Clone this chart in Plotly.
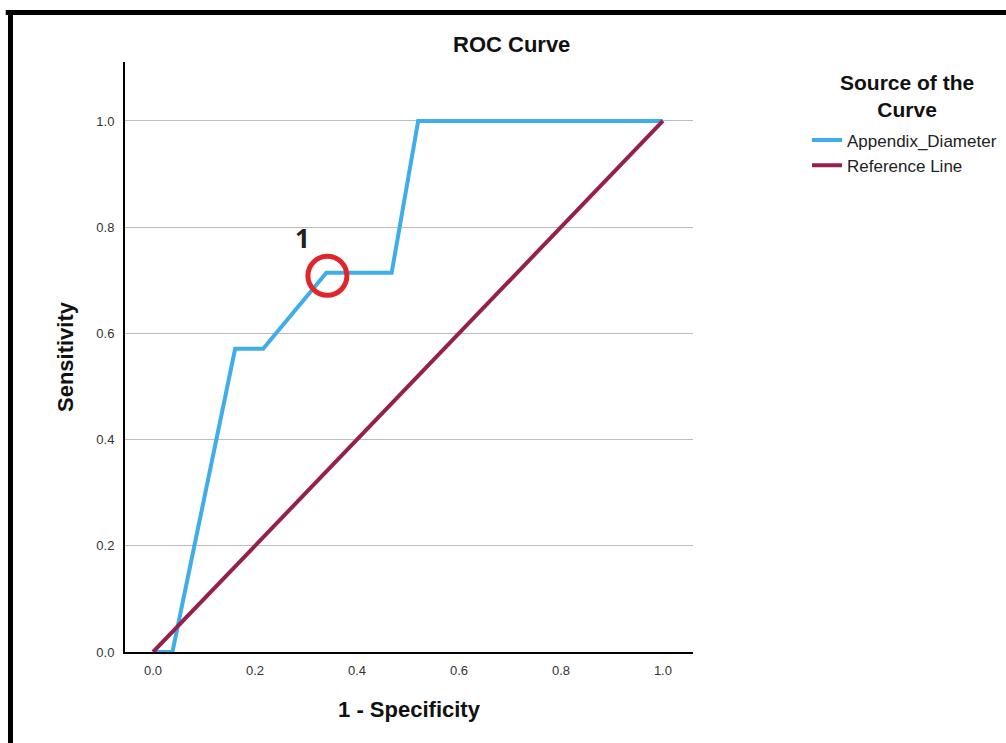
import plotly.graph_objects as go

# ROC curve data (1 - Specificity, Sensitivity)
roc_fpr = [0.0, 0.038, 0.161, 0.216, 0.340, 0.468, 0.520, 1.0]
roc_tpr = [0.0, 0.0, 0.571, 0.571, 0.714, 0.714, 1.0, 1.0]
ref_fpr = [0.0, 1.0]
ref_tpr = [0.0, 1.0]
tick_vals = [0.0, 0.2, 0.4, 0.6, 0.8, 1.0]
tick_text = ["0.0", "0.2", "0.4", "0.6", "0.8", "1.0"]
marked_point = (0.340, 0.714)
marked_label = "1"

BLUE = "#3fadeb"
MAROON = "#95204c"
FONT = "Liberation Sans, Arial, sans-serif"

fig = go.Figure()
fig.add_trace(go.Scatter(x=roc_fpr, y=roc_tpr, mode="lines", name="Appendix_Diameter",
                         line=dict(color=BLUE, width=4)))
fig.add_trace(go.Scatter(x=ref_fpr, y=ref_tpr, mode="lines", name="Reference Line",
                         line=dict(color=MAROON, width=4)))

fig.update_layout(
    width=1006, height=743,
    margin=dict(l=125, r=313, t=62, b=91, autoexpand=False),
    paper_bgcolor="white", plot_bgcolor="white",
    font=dict(family=FONT, color="#222"),
    showlegend=True,
    legend=dict(
        x=1.2007, y=0.8975, xanchor="left", yanchor="top",
        font=dict(size=17, family=FONT, color="#222"),
        itemwidth=30, tracegroupgap=0, bgcolor="rgba(0,0,0,0)",
    ),
)
fig.update_xaxes(range=[-0.055, 1.059], tickvals=tick_vals, ticktext=tick_text,
                 showgrid=False, zeroline=False, showline=True, linecolor="black", linewidth=2,
                 ticks="", ticklabelstandoff=5, tickfont=dict(size=13, color="#333"),
                 title=dict(text="<b>1 - Specificity</b>", font=dict(size=22, color="#111"), standoff=25))
fig.update_yaxes(range=[0, 1.111], tickvals=tick_vals, ticktext=tick_text,
                 showgrid=True, gridcolor="#bdbdbd", gridwidth=1, zeroline=False,
                 showline=True, linecolor="black", linewidth=2,
                 ticks="", ticklabelstandoff=6, tickfont=dict(size=13, color="#333"),
                 title=dict(text="<b>Sensitivity</b>", font=dict(size=22, color="#111"), standoff=17))

# Title
fig.add_annotation(text="<b>ROC Curve</b>", xref="paper", yref="paper", x=0.6796, y=1.0305,
                   xanchor="center", yanchor="middle", showarrow=False,
                   font=dict(size=22, family=FONT, color="#111"))

# Legend title (two centred lines)
fig.add_annotation(text="<b>Source of the<br>Curve</b>", xref="paper", yref="paper",
                   x=1.3768, y=0.9424, xanchor="center", yanchor="middle", align="center",
                   showarrow=False, font=dict(size=21, family=FONT, color="#111"))

# Red circle marker around the chosen cut-off point
fig.add_shape(type="circle", xref="x", yref="y", xsizemode="pixel", ysizemode="pixel",
              xanchor=marked_point[0], yanchor=marked_point[1],
              x0=-18.5, x1=20.5, y0=-22.5, y1=16.5, line=dict(color="#e0262a", width=5))
fig.add_annotation(text="<b>" + marked_label + "</b>", x=marked_point[0], y=marked_point[1],
                   xref="x", yref="y", showarrow=False, xshift=-24, yshift=35,
                   font=dict(size=26, family="Open Sans, DejaVu Sans, sans-serif", color="#222"))

# Frame border (top and left edges)
fig.add_shape(type="line", xref="paper", yref="paper", x0=-0.21, x1=1.56, y0=1.0839, y1=1.0839,
              line=dict(color="black", width=5))
fig.add_shape(type="line", xref="paper", yref="paper", x0=-0.2016, x1=-0.2016, y0=1.088, y1=-0.2,
              line=dict(color="black", width=5))

fig.write_html("out.html", config={"displayModeBar": False},
               post_script="document.body.style.margin='0px';document.body.style.overflow='hidden';")
